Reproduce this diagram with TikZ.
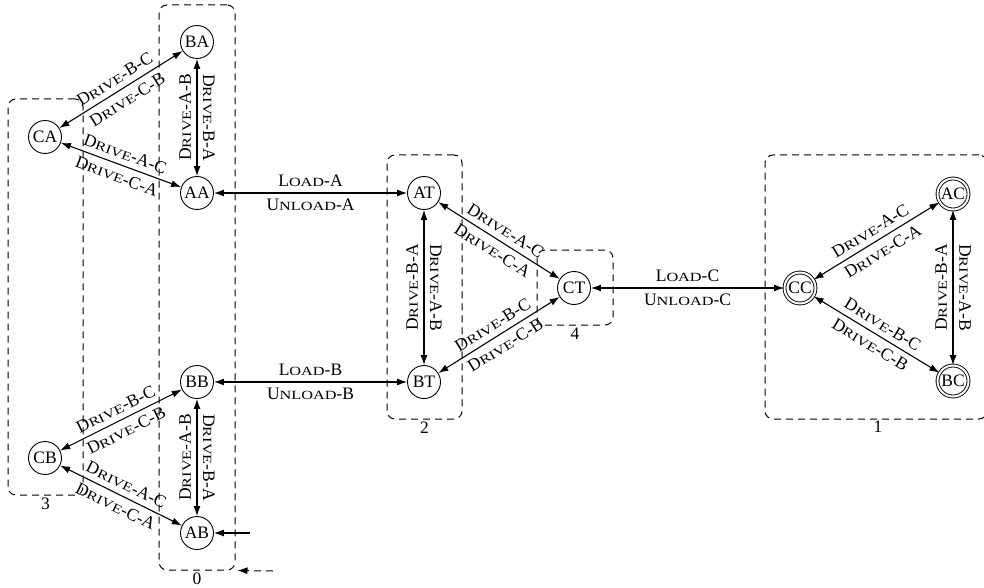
\documentclass[tikz,border=0pt]{standalone}
\usepackage{fontspec}
\setmainfont{Liberation Serif}
\newfontfamily\scfam[FakeStretch=1.3]{Liberation Serif}
\usetikzlibrary{arrows.meta}
\newcommand{\fsc}[1]{{\scfam\fontsize{12.5}{14}\selectfont #1}}
\newcommand{\Drv}[2]{D\fsc{RIVE}-#1-#2}
\newcommand{\Ld}[1]{L\fsc{OAD}-#1}
\newcommand{\Uld}[1]{U\fsc{NLOAD}-#1}
\begin{document}
\begin{tikzpicture}[x=1pt,y=-1pt,
  every node/.style={font=\fontsize{17.5}{20}\selectfont},
  state/.style={circle,draw,line width=0.9pt,minimum size=33pt,inner sep=0pt},
  accst/.style={state,double,double distance=2pt,minimum size=31pt},
  edge/.style={line width=1.1pt,{Latex[length=10pt,width=7pt]}-{Latex[length=10pt,width=7pt]}},
  init/.style={line width=1.1pt,-{Latex[length=10pt,width=7pt]}},
  tran/.style={inner sep=5.5pt},
  grp/.style={draw,dash pattern=on 7pt off 5pt,line width=1pt,rounded corners=8pt,inner sep=0pt},
  glabel/.style={below,inner sep=2pt}
]
\useasboundingbox (0,0) rectangle (984,588);
% groups
\node[grp,minimum width=76pt,minimum height=565pt] (g0) at (197,287.5) {};
\node[grp,minimum width=75pt,minimum height=396pt] (g3) at (45.5,297) {};
\node[grp,minimum width=75pt,minimum height=264pt] (g2) at (424.5,287) {};
\node[grp,minimum width=76pt,minimum height=75pt] (g4) at (575,287.5) {};
\node[grp,minimum width=222pt,minimum height=264pt] (g1) at (876,287) {};
\node[glabel] (l0) at (g0.south) {0};
\node[glabel] (l3) at (g3.south) {3};
\node[glabel] (l2) at (g2.south) {2};
\node[glabel] (l4) at (g4.south) {4};
\node[glabel] (l1) at (878,419) {1};
% states
\node[state] (BA) at (197,42) {BA};
\node[state] (CA) at (45,137) {CA};
\node[state] (AA) at (197,193) {AA};
\node[state] (BB) at (197,382) {BB};
\node[state] (CB) at (45,458) {CB};
\node[state] (AB) at (197,533) {AB};
\node[state] (AT) at (424,193) {AT};
\node[state] (BT) at (424,382) {BT};
\node[state] (CT) at (574,288) {CT};
\node[accst] (CC) at (800,288) {CC};
\node[accst] (AC) at (953,194) {AC};
\node[accst] (BC) at (953,381) {BC};
% initial arrows
\coordinate (ABin) at (250,533);
\draw[init] (ABin) -- (AB);
\coordinate (g0in) at (273,571);
\draw[init,line width=1pt,dash pattern=on 7pt off 5pt,shorten >=2pt] (g0in) -- (g0.south east);
% group A
\draw[edge] (CA) -- node[tran,above,sloped]{\Drv{B}{C}} node[tran,below,sloped]{\Drv{C}{B}} (BA);
\draw[edge] (CA) -- node[tran,above,sloped]{\Drv{A}{C}} node[tran,below,sloped]{\Drv{C}{A}} (AA);
\draw[edge] (AA) -- node[tran,anchor=south,rotate=90]{\Drv{A}{B}} node[tran,anchor=south,rotate=-90]{\Drv{B}{A}} (BA);
% group B
\draw[edge] (CB) -- node[tran,above,sloped]{\Drv{B}{C}} node[tran,below,sloped]{\Drv{C}{B}} (BB);
\draw[edge] (CB) -- node[tran,above,sloped]{\Drv{A}{C}} node[tran,below,sloped]{\Drv{C}{A}} (AB);
\draw[edge] (AB) -- node[tran,anchor=south,rotate=90]{\Drv{A}{B}} node[tran,anchor=south,rotate=-90]{\Drv{B}{A}} (BB);
% loads
\draw[edge] (AA) -- node[tran,above]{\Ld{A}} node[tran,below]{\Uld{A}} (AT);
\draw[edge] (BB) -- node[tran,above]{\Ld{B}} node[tran,below]{\Uld{B}} (BT);
\draw[edge] (CT) -- node[tran,above]{\Ld{C}} node[tran,below]{\Uld{C}} (CC);
% group T
\draw[edge] (BT) -- node[tran,anchor=south,rotate=90]{\Drv{B}{A}} node[tran,anchor=south,rotate=-90]{\Drv{A}{B}} (AT);
\draw[edge] (AT) -- node[tran,above,sloped]{\Drv{A}{C}} node[tran,below,sloped]{\Drv{C}{A}} (CT);
\draw[edge] (BT) -- node[tran,above,sloped]{\Drv{B}{C}} node[tran,below,sloped]{\Drv{C}{B}} (CT);
% group C
\draw[edge] (CC) -- node[tran,above,sloped]{\Drv{A}{C}} node[tran,below,sloped]{\Drv{C}{A}} (AC);
\draw[edge] (CC) -- node[tran,above,sloped]{\Drv{B}{C}} node[tran,below,sloped]{\Drv{C}{B}} (BC);
\draw[edge] (BC) -- node[tran,anchor=south,rotate=90]{\Drv{B}{A}} node[tran,anchor=south,rotate=-90]{\Drv{A}{B}} (AC);
\end{tikzpicture}
\end{document}
